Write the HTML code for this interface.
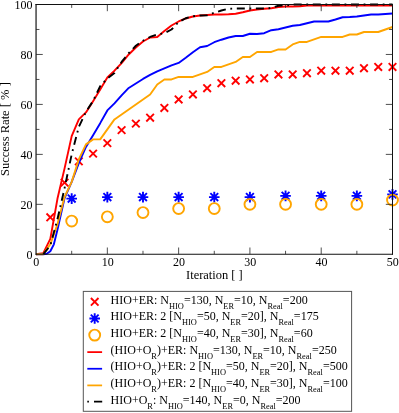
<!DOCTYPE html>
<html><head><meta charset="utf-8"><title>Success Rate</title>
<style>html,body{margin:0;padding:0;background:#fff;}body{width:399px;height:413px;position:relative;overflow:hidden;font-family:"Liberation Serif",serif;}</style>
</head><body>
<svg width="399" height="413" viewBox="0 0 399 413" style="position:absolute;left:0;top:0;will-change:transform;opacity:0.999">
<rect x="0" y="0" width="399" height="413" fill="#fff"/>
<g>
<path d="M46.51 213.53L54.11 221.13M46.51 221.13L54.11 213.53" stroke="#ff0000" stroke-width="1.9" fill="none"/>
<path d="M60.77 178.81L68.37 186.41M60.77 186.41L68.37 178.81" stroke="#ff0000" stroke-width="1.9" fill="none"/>
<path d="M75.02 157.57L82.62 165.17M75.02 165.17L82.62 157.57" stroke="#ff0000" stroke-width="1.9" fill="none"/>
<path d="M89.28 149.83L96.88 157.43M89.28 157.43L96.88 149.83" stroke="#ff0000" stroke-width="1.9" fill="none"/>
<path d="M103.54 139.34L111.14 146.94M103.54 146.94L111.14 139.34" stroke="#ff0000" stroke-width="1.9" fill="none"/>
<path d="M117.80 126.35L125.40 133.95M117.80 133.95L125.40 126.35" stroke="#ff0000" stroke-width="1.9" fill="none"/>
<path d="M132.06 119.85L139.66 127.45M132.06 127.45L139.66 119.85" stroke="#ff0000" stroke-width="1.9" fill="none"/>
<path d="M146.31 113.86L153.91 121.46M146.31 121.46L153.91 113.86" stroke="#ff0000" stroke-width="1.9" fill="none"/>
<path d="M160.57 104.12L168.17 111.72M160.57 111.72L168.17 104.12" stroke="#ff0000" stroke-width="1.9" fill="none"/>
<path d="M174.83 95.62L182.43 103.22M174.83 103.22L182.43 95.62" stroke="#ff0000" stroke-width="1.9" fill="none"/>
<path d="M189.09 90.63L196.69 98.23M189.09 98.23L196.69 90.63" stroke="#ff0000" stroke-width="1.9" fill="none"/>
<path d="M203.35 84.38L210.95 91.98M203.35 91.98L210.95 84.38" stroke="#ff0000" stroke-width="1.9" fill="none"/>
<path d="M217.60 79.39L225.20 86.99M217.60 86.99L225.20 79.39" stroke="#ff0000" stroke-width="1.9" fill="none"/>
<path d="M231.86 76.89L239.46 84.49M231.86 84.49L239.46 76.89" stroke="#ff0000" stroke-width="1.9" fill="none"/>
<path d="M246.12 75.64L253.72 83.24M246.12 83.24L253.72 75.64" stroke="#ff0000" stroke-width="1.9" fill="none"/>
<path d="M260.38 74.39L267.98 81.99M260.38 81.99L267.98 74.39" stroke="#ff0000" stroke-width="1.9" fill="none"/>
<path d="M274.64 70.64L282.24 78.24M274.64 78.24L282.24 70.64" stroke="#ff0000" stroke-width="1.9" fill="none"/>
<path d="M288.89 70.64L296.49 78.24M288.89 78.24L296.49 70.64" stroke="#ff0000" stroke-width="1.9" fill="none"/>
<path d="M303.15 69.40L310.75 77.00M303.15 77.00L310.75 69.40" stroke="#ff0000" stroke-width="1.9" fill="none"/>
<path d="M317.41 66.90L325.01 74.50M317.41 74.50L325.01 66.90" stroke="#ff0000" stroke-width="1.9" fill="none"/>
<path d="M331.67 66.90L339.27 74.50M331.67 74.50L339.27 66.90" stroke="#ff0000" stroke-width="1.9" fill="none"/>
<path d="M345.93 66.90L353.53 74.50M345.93 74.50L353.53 66.90" stroke="#ff0000" stroke-width="1.9" fill="none"/>
<path d="M360.18 64.40L367.78 72.00M360.18 72.00L367.78 64.40" stroke="#ff0000" stroke-width="1.9" fill="none"/>
<path d="M374.44 63.15L382.04 70.75M374.44 70.75L382.04 63.15" stroke="#ff0000" stroke-width="1.9" fill="none"/>
<path d="M388.70 63.15L396.30 70.75M388.70 70.75L396.30 63.15" stroke="#ff0000" stroke-width="1.9" fill="none"/>
<path d="M66.39 198.59H76.99M71.69 193.29V203.89M67.79 194.69L75.59 202.49M67.79 202.49L75.59 194.69" stroke="#0000ff" stroke-width="1.9" fill="none"/>
<path d="M102.04 197.10H112.64M107.34 191.80V202.40M103.44 193.20L111.24 201.00M103.44 201.00L111.24 193.20" stroke="#0000ff" stroke-width="1.9" fill="none"/>
<path d="M137.69 197.10H148.29M142.99 191.80V202.40M139.09 193.20L146.89 201.00M139.09 201.00L146.89 193.20" stroke="#0000ff" stroke-width="1.9" fill="none"/>
<path d="M173.33 197.10H183.93M178.63 191.80V202.40M174.73 193.20L182.53 201.00M174.73 201.00L182.53 193.20" stroke="#0000ff" stroke-width="1.9" fill="none"/>
<path d="M208.97 197.10H219.57M214.27 191.80V202.40M210.37 193.20L218.17 201.00M210.37 201.00L218.17 193.20" stroke="#0000ff" stroke-width="1.9" fill="none"/>
<path d="M244.62 197.10H255.22M249.92 191.80V202.40M246.02 193.20L253.82 201.00M246.02 201.00L253.82 193.20" stroke="#0000ff" stroke-width="1.9" fill="none"/>
<path d="M280.26 195.85H290.87M285.56 190.55V201.15M281.67 191.95L289.46 199.75M281.67 199.75L289.46 191.95" stroke="#0000ff" stroke-width="1.9" fill="none"/>
<path d="M315.91 195.85H326.51M321.21 190.55V201.15M317.31 191.95L325.11 199.75M317.31 199.75L325.11 191.95" stroke="#0000ff" stroke-width="1.9" fill="none"/>
<path d="M351.56 195.85H362.16M356.86 190.55V201.15M352.96 191.95L360.75 199.75M352.96 199.75L360.75 191.95" stroke="#0000ff" stroke-width="1.9" fill="none"/>
<path d="M387.20 194.35H397.80M392.50 189.05V199.65M388.60 190.45L396.40 198.25M388.60 198.25L396.40 190.45" stroke="#0000ff" stroke-width="1.9" fill="none"/>
<circle cx="71.69" cy="221.08" r="5.45" stroke="#ffa500" stroke-width="1.9" fill="none"/>
<circle cx="107.34" cy="216.83" r="5.45" stroke="#ffa500" stroke-width="1.9" fill="none"/>
<circle cx="142.99" cy="212.58" r="5.45" stroke="#ffa500" stroke-width="1.9" fill="none"/>
<circle cx="178.63" cy="208.59" r="5.45" stroke="#ffa500" stroke-width="1.9" fill="none"/>
<circle cx="214.27" cy="208.59" r="5.45" stroke="#ffa500" stroke-width="1.9" fill="none"/>
<circle cx="249.92" cy="204.34" r="5.45" stroke="#ffa500" stroke-width="1.9" fill="none"/>
<circle cx="285.56" cy="204.34" r="5.45" stroke="#ffa500" stroke-width="1.9" fill="none"/>
<circle cx="321.21" cy="204.34" r="5.45" stroke="#ffa500" stroke-width="1.9" fill="none"/>
<circle cx="356.86" cy="204.34" r="5.45" stroke="#ffa500" stroke-width="1.9" fill="none"/>
<circle cx="392.50" cy="200.09" r="5.45" stroke="#ffa500" stroke-width="1.9" fill="none"/>
<polyline points="36.05,254.30 43.18,253.30 50.31,238.81 57.44,198.84 64.57,168.37 71.69,136.14 78.82,119.41 85.95,112.41 93.08,101.17 100.21,89.43 107.34,77.44 114.47,70.70 121.60,63.20 128.73,54.46 135.86,47.47 142.99,41.47 150.11,37.47 157.24,36.97 164.37,30.98 171.50,25.48 178.63,21.49 185.76,18.49 192.89,16.49 200.02,15.49 207.15,14.99 214.27,14.49 221.40,14.49 228.53,14.24 235.66,13.74 242.79,12.24 249.92,10.50 257.05,9.50 264.18,8.75 271.31,8.25 278.44,7.00 285.56,6.50 292.69,6.50 299.82,6.25 306.95,5.50 314.08,5.50 321.21,5.50 328.34,5.50 335.47,5.50 342.60,5.50 349.73,5.50 356.86,5.50 363.98,5.50 371.11,5.50 378.24,5.50 385.37,5.50 392.50,5.50" fill="none" stroke="#ff0000" stroke-width="1.9" stroke-linejoin="round" />
<polyline points="36.05,254.30 43.18,254.30 46.74,253.80 50.31,251.30 53.87,244.31 57.44,229.82 64.57,198.10 71.69,181.86 78.82,163.12 85.95,146.89 93.08,135.15 100.21,123.16 107.34,110.42 114.47,103.42 121.60,95.43 128.73,87.93 135.86,83.44 142.99,78.94 150.11,74.94 157.24,71.45 164.37,68.45 171.50,65.45 178.63,62.95 185.76,57.71 192.89,52.21 200.02,47.22 207.15,45.97 214.27,42.22 221.40,39.72 228.53,37.47 235.66,35.97 242.79,35.97 249.92,33.73 257.05,33.98 264.18,33.23 271.31,30.23 278.44,29.23 285.56,27.48 292.69,25.73 299.82,24.98 306.95,23.24 314.08,21.49 321.21,21.49 328.34,21.49 335.47,19.49 342.60,17.24 349.73,16.99 356.86,16.49 363.98,15.49 371.11,14.49 378.24,14.49 385.37,13.99 392.50,13.49" fill="none" stroke="#0000ff" stroke-width="1.9" stroke-linejoin="round" />
<polyline points="36.05,254.30 43.18,254.30 50.31,244.31 57.44,224.32 64.57,196.85 71.69,181.86 78.82,159.38 85.95,144.39 93.08,139.39 100.21,139.39 107.34,129.40 114.47,119.41 121.60,114.41 128.73,109.42 135.86,104.42 142.99,99.42 150.11,94.43 157.24,84.44 164.37,79.44 171.50,79.44 178.63,76.94 185.76,76.94 192.89,76.94 200.02,74.44 207.15,71.95 214.27,66.95 221.40,66.95 228.53,64.45 235.66,61.95 242.79,56.96 249.92,56.96 257.05,51.96 264.18,51.96 271.31,51.96 278.44,49.46 285.56,49.46 292.69,44.47 299.82,41.97 306.95,41.97 314.08,39.47 321.21,36.97 328.34,36.97 335.47,36.97 342.60,36.97 349.73,34.48 356.86,34.48 363.98,31.98 371.11,31.98 378.24,31.98 385.37,29.48 392.50,26.98" fill="none" stroke="#ffa500" stroke-width="1.9" stroke-linejoin="round" />
<polyline points="43.18,254.30 50.31,245.56 57.44,219.33 64.57,188.10 71.69,154.38 78.82,126.90 85.95,111.91 93.08,100.92 100.21,86.18 107.34,78.44 114.47,72.95 121.60,61.95 128.73,53.21 135.86,45.72 142.99,40.72 150.11,36.97 157.24,34.48 164.37,33.23 171.50,29.48 178.63,21.99 185.76,18.24 192.89,16.24 200.02,15.49 207.15,15.24 214.27,12.74 221.40,10.50 228.53,8.75 235.66,8.50 242.79,8.50 249.92,8.50 257.05,8.50 264.18,8.50 271.31,8.00 278.44,5.75 285.56,5.50 292.69,4.50 299.82,4.50 306.95,4.50 314.08,4.50 321.21,4.50 328.34,4.50 335.47,4.50 342.60,4.50 349.73,4.50 356.86,4.50 363.98,4.50 371.11,4.50 378.24,4.50 385.37,4.50 392.50,4.50" fill="none" stroke="#000000" stroke-width="1.9" stroke-linejoin="round" stroke-dasharray="1.8 4.65 8 4.65" stroke-dashoffset="6.23"/>
</g>
<path d="M36.05 4.0V254.7" stroke="#000" stroke-width="1.1" fill="none"/>
<path d="M392.5 4.0V254.7" stroke="#111" stroke-width="1" fill="none"/>
<path d="M35.55 4.5H393.0" stroke="#111" stroke-width="1" fill="none"/>
<path d="M35.55 254.2H393.0" stroke="#111" stroke-width="1.1" fill="none"/>
<path d="M71.69 254.2v-3.4M71.69 4.5v3.4M107.34 254.2v-6.7M107.34 4.5v6.7M142.99 254.2v-3.4M142.99 4.5v3.4M178.63 254.2v-6.7M178.63 4.5v6.7M214.27 254.2v-3.4M214.27 4.5v3.4M249.92 254.2v-6.7M249.92 4.5v6.7M285.56 254.2v-3.4M285.56 4.5v3.4M321.21 254.2v-6.7M321.21 4.5v6.7M356.86 254.2v-3.4M356.86 4.5v3.4M36.05 229.32h3.4M392.5 229.32h-3.4M36.05 204.34h6.7M392.5 204.34h-6.7M36.05 179.36h3.4M392.5 179.36h-3.4M36.05 154.38h6.7M392.5 154.38h-6.7M36.05 129.40h3.4M392.5 129.40h-3.4M36.05 104.42h6.7M392.5 104.42h-6.7M36.05 79.44h3.4M392.5 79.44h-3.4M36.05 54.46h6.7M392.5 54.46h-6.7M36.05 29.48h3.4M392.5 29.48h-3.4" stroke="#222" stroke-width="0.8" fill="none"/>
<g font-family="Liberation Serif, serif" font-size="12px" fill="#000">
<text x="36.35" y="266.2" text-anchor="middle">0</text>
<text x="107.64" y="266.2" text-anchor="middle">10</text>
<text x="178.93" y="266.2" text-anchor="middle">20</text>
<text x="250.22" y="266.2" text-anchor="middle">30</text>
<text x="321.51" y="266.2" text-anchor="middle">40</text>
<text x="392.80" y="266.2" text-anchor="middle">50</text>
<text x="32.6" y="258.70" text-anchor="end">0</text>
<text x="32.6" y="208.74" text-anchor="end">20</text>
<text x="32.6" y="158.78" text-anchor="end">40</text>
<text x="32.6" y="108.82" text-anchor="end">60</text>
<text x="32.6" y="58.86" text-anchor="end">80</text>
<text x="32.6" y="8.90" text-anchor="end">100</text>
<text x="214.4" y="278.8" text-anchor="middle" font-size="12.45px">Iteration [ ]</text>
<text transform="translate(9.1,129.1) rotate(-90)" text-anchor="middle" font-size="12.53px">Success Rate [ % ]</text>
</g>
<rect x="83.3" y="291.4" width="268.3" height="119.90000000000003" fill="#fff" stroke="#555" stroke-width="1"/>
<g font-family="Liberation Serif, serif" font-size="12px" fill="#000">
<path d="M90.90 298.00L98.50 305.60M90.90 305.60L98.50 298.00" stroke="#ff0000" stroke-width="1.9" fill="none"/>
<text x="110.6" y="303.70">HIO+ER: N<tspan dy="5" font-size="8.4px">HIO</tspan><tspan dy="-5">=130, N</tspan><tspan dy="5" font-size="8.4px">ER</tspan><tspan dy="-5">=10, N</tspan><tspan dy="5" font-size="8.4px">Real</tspan><tspan dy="-5">=200</tspan></text>
<path d="M89.40 318.45H100.00M94.70 313.15V323.75M90.80 314.55L98.60 322.35M90.80 322.35L98.60 314.55" stroke="#0000ff" stroke-width="1.9" fill="none"/>
<text x="110.6" y="320.35">HIO+ER: 2 [N<tspan dy="5" font-size="8.4px">HIO</tspan><tspan dy="-5">=50, N</tspan><tspan dy="5" font-size="8.4px">ER</tspan><tspan dy="-5">=20], N</tspan><tspan dy="5" font-size="8.4px">Real</tspan><tspan dy="-5">=175</tspan></text>
<circle cx="94.70" cy="335.10" r="5.45" stroke="#ffa500" stroke-width="1.9" fill="none"/>
<text x="110.6" y="337.00">HIO+ER: 2 [N<tspan dy="5" font-size="8.4px">HIO</tspan><tspan dy="-5">=40, N</tspan><tspan dy="5" font-size="8.4px">ER</tspan><tspan dy="-5">=30], N</tspan><tspan dy="5" font-size="8.4px">Real</tspan><tspan dy="-5">=60</tspan></text>
<path d="M87.3 352.10h14.8" stroke="#ff0000" stroke-width="1.75"/>
<text x="110.6" y="353.65">(HIO+O<tspan dy="5" font-size="8.4px">R</tspan><tspan dy="-5">)+ER: N</tspan><tspan dy="5" font-size="8.4px">HIO</tspan><tspan dy="-5">=130, N</tspan><tspan dy="5" font-size="8.4px">ER</tspan><tspan dy="-5">=10, N</tspan><tspan dy="5" font-size="8.4px">Real</tspan><tspan dy="-5">=250</tspan></text>
<path d="M87.3 368.75h14.8" stroke="#0000ff" stroke-width="1.75"/>
<text x="110.6" y="370.30">(HIO+O<tspan dy="5" font-size="8.4px">R</tspan><tspan dy="-5">)+ER: 2 [N</tspan><tspan dy="5" font-size="8.4px">HIO</tspan><tspan dy="-5">=50, N</tspan><tspan dy="5" font-size="8.4px">ER</tspan><tspan dy="-5">=20], N</tspan><tspan dy="5" font-size="8.4px">Real</tspan><tspan dy="-5">=500</tspan></text>
<path d="M87.3 385.40h14.8" stroke="#ffa500" stroke-width="1.75"/>
<text x="110.6" y="386.95">(HIO+O<tspan dy="5" font-size="8.4px">R</tspan><tspan dy="-5">)+ER: 2 [N</tspan><tspan dy="5" font-size="8.4px">HIO</tspan><tspan dy="-5">=40, N</tspan><tspan dy="5" font-size="8.4px">ER</tspan><tspan dy="-5">=30], N</tspan><tspan dy="5" font-size="8.4px">Real</tspan><tspan dy="-5">=100</tspan></text>
<path d="M87.3 401.7h1.6M94.0 401.7h8.2" stroke="#000000" stroke-width="1.8"/>
<text x="110.6" y="403.60">HIO+O<tspan dy="5" font-size="8.4px">R</tspan><tspan dy="-5">: N</tspan><tspan dy="5" font-size="8.4px">HIO</tspan><tspan dy="-5">=140, N</tspan><tspan dy="5" font-size="8.4px">ER</tspan><tspan dy="-5">=0, N</tspan><tspan dy="5" font-size="8.4px">Real</tspan><tspan dy="-5">=200</tspan></text>
</g>
</svg>
</body></html>
